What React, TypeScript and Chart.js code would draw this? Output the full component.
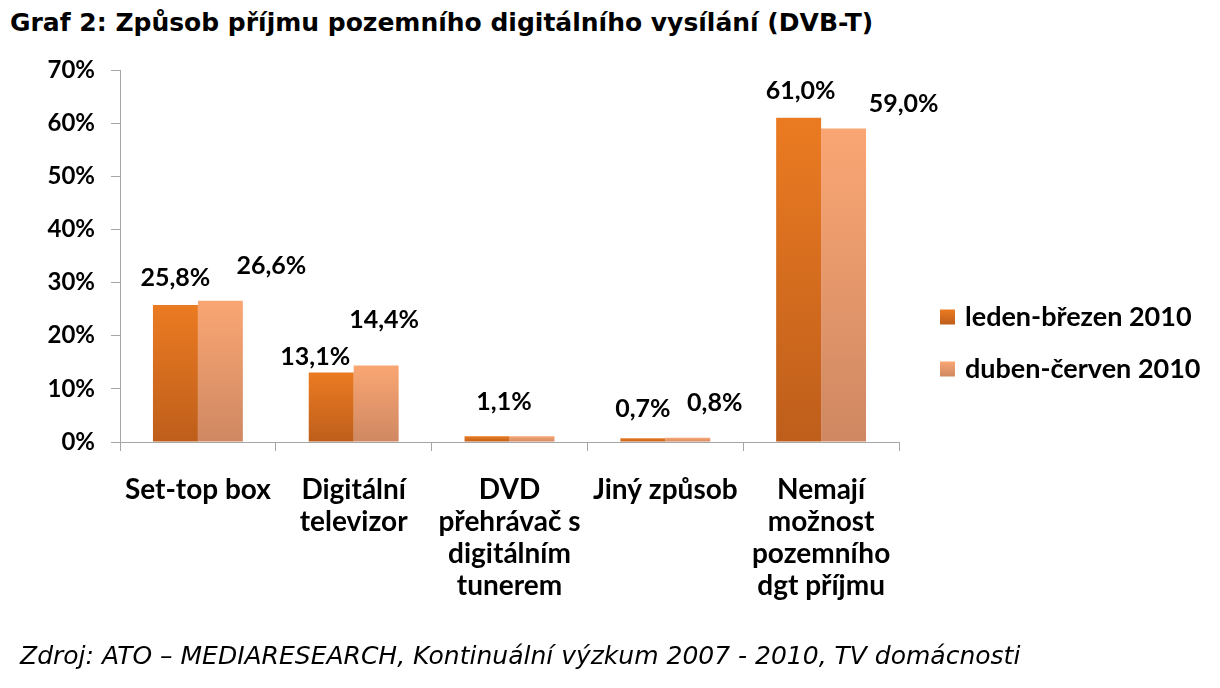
import React, { useEffect, useRef } from "react";
import { Chart, registerables } from "chart.js";

Chart.register(...registerables);

const titleText = "Graf 2: Způsob příjmu pozemního digitálního vysílání (DVB-T)";
const sourceText = "Zdroj: ATO – MEDIARESEARCH, Kontinuální výzkum 2007 - 2010, TV domácnosti";

const categories: string[][] = [
  ["Set-top box"],
  ["Digitální", "televizor"],
  ["DVD", "přehrávač s", "digitálním", "tunerem"],
  ["Jiný způsob"],
  ["Nemají", "možnost", "pozemního", "dgt příjmu"],
];
const seriesNames = ["leden-březen 2010", "duben-červen 2010"];
const janMar = [25.8, 13.1, 1.1, 0.7, 61.0];
const aprJun = [26.6, 14.4, 1.1, 0.8, 59.0];
const yMin = 0;
const yMax = 70;
const yStep = 10;

// label offsets (dx, dy) of the label centre from the bar's top centre, mimicking manual placement
const labelOffsets: number[][][] = [
  [[0, -27], [-16, -15], [17, -34], [0, -29], [2, -27]],
  [[51, -35], [8, -46], [-27, -34], [27, -35], [60, -25]],
];

const colorsTop = ["#EB7B22", "#FAA673"];
const colorsBottom = ["#BE5E1B", "#CF8862"];

const chartFont = "Lato, 'Open Sans', sans-serif";

const fmt = (v: number) => v.toFixed(1).replace(".", ",") + "%";

const gradientFill = (i: number) => (ctx: any) => {
  const chart = ctx.chart;
  if (ctx.type !== "data") return colorsTop[i];
  const ys = chart.scales && chart.scales.y;
  if (!ys) return colorsTop[i];
  const v = ctx.parsed ? ctx.parsed.y : ctx.raw;
  const y0 = ys.getPixelForValue(v);
  const y1 = ys.getPixelForValue(0);
  if (!isFinite(y0) || !isFinite(y1) || Math.abs(y1 - y0) < 0.5) return colorsTop[i];
  const g = chart.ctx.createLinearGradient(0, y0, 0, y1);
  g.addColorStop(0, colorsTop[i]);
  g.addColorStop(1, colorsBottom[i]);
  return g;
};

const labelsPlugin = {
  id: "customLabels",
  afterDatasetsDraw(chart: any) {
    const ctx = chart.ctx;
    ctx.save();
    ctx.fillStyle = "#000";
    ctx.font = `bold 25px ${chartFont}`;
    ctx.textAlign = "center";
    ctx.textBaseline = "middle";
    const drawn = new Set<string>();
    chart.data.datasets.forEach((ds: any, di: number) => {
      const meta = chart.getDatasetMeta(di);
      meta.data.forEach((el: any, i: number) => {
        const [dx, dy] = labelOffsets[di][i];
        const text = fmt(ds.data[i]);
        const key = `${text}@${i}`;
        if (drawn.has(key)) return; // identical labels in one category overlap into one
        drawn.add(key);
        ctx.fillText(text, el.x + dx, el.y + dy);
      });
    });
    // legend
    const ca = chart.chartArea;
    const lx = ca.right + 41;
    const rows = [317, 369];
    seriesNames.forEach((name, i) => {
      const cy = rows[i];
      const g = ctx.createLinearGradient(0, cy - 7.5, 0, cy + 7.5);
      g.addColorStop(0, colorsTop[i]);
      g.addColorStop(1, colorsBottom[i]);
      ctx.fillStyle = g;
      ctx.fillRect(lx, cy - 7.5, 15, 15);
      ctx.fillStyle = "#000";
      ctx.textAlign = "left";
      ctx.font = `bold 27px ${chartFont}`;
      ctx.fillText(name, lx + 25, cy);
    });
    ctx.restore();
  },
};

export default function App() {
  const canvasRef = useRef<HTMLCanvasElement | null>(null);

  useEffect(() => {
    if (!canvasRef.current) return;
    const chart = new Chart(canvasRef.current, {
      type: "bar",
      data: {
        labels: categories,
        datasets: [
          {
            label: seriesNames[0],
            data: janMar,
            backgroundColor: gradientFill(0),
            borderWidth: 0,
            categoryPercentage: 0.577,
            barPercentage: 1,
          },
          {
            label: seriesNames[1],
            data: aprJun,
            backgroundColor: gradientFill(1),
            borderWidth: 0,
            categoryPercentage: 0.577,
            barPercentage: 1,
          },
        ],
      },
      options: {
        animation: false,
        responsive: true,
        maintainAspectRatio: false,
        layout: { padding: { left: 0, top: 70, right: 321, bottom: 0 } },
        plugins: {
          legend: { display: false },
          tooltip: { enabled: false },
          title: { display: false },
        },
        scales: {
          x: {
            grid: {
              drawOnChartArea: false,
              drawTicks: true,
              tickLength: 9,
              color: "#A6A6A6",
              offset: true,
            },
            border: { display: true, color: "#A6A6A6", width: 1 },
            ticks: {
              color: "#000",
              font: { family: chartFont, size: 28, weight: "bold", lineHeight: 1.14 },
              padding: 23,
              maxRotation: 0,
              autoSkip: false,
            },
            afterFit: (s: any) => {
              s.height = 246;
            },
          },
          y: {
            min: yMin,
            max: yMax,
            grid: {
              drawOnChartArea: false,
              drawTicks: true,
              tickLength: 9,
              color: "#A6A6A6",
            },
            border: { display: true, color: "#A6A6A6", width: 1 },
            ticks: {
              stepSize: yStep,
              color: "#000",
              font: { family: chartFont, size: 24, weight: "bold" },
              padding: 16,
              callback: (v: any) => v + "%",
            },
            afterFit: (s: any) => {
              s.width = 120;
            },
          },
        },
      },
      plugins: [labelsPlugin],
    });
    return () => chart.destroy();
  }, []);

  return (
    <div style={{ position: "absolute", left: 0, top: 0, width: 1220, height: 688, background: "#fff" }}>
      <div
        style={{
          position: "absolute",
          left: 10,
          top: 8,
          fontFamily: "'DejaVu Sans', 'Noto Sans', sans-serif",
          fontWeight: "bold",
          fontSize: 25,
          lineHeight: "30px",
          whiteSpace: "nowrap",
          color: "#000",
        }}
      >
        {titleText}
      </div>
      <div style={{ position: "absolute", left: 0, top: 0, width: 1220, height: 688 }}>
        <canvas ref={canvasRef} />
      </div>
      <div
        style={{
          position: "absolute",
          left: 20,
          top: 641,
          fontFamily: "'DejaVu Sans', 'Noto Sans', sans-serif",
          fontStyle: "italic",
          fontSize: 25,
          lineHeight: "30px",
          whiteSpace: "nowrap",
          color: "#000",
        }}
      >
        {sourceText}
      </div>
    </div>
  );
}
